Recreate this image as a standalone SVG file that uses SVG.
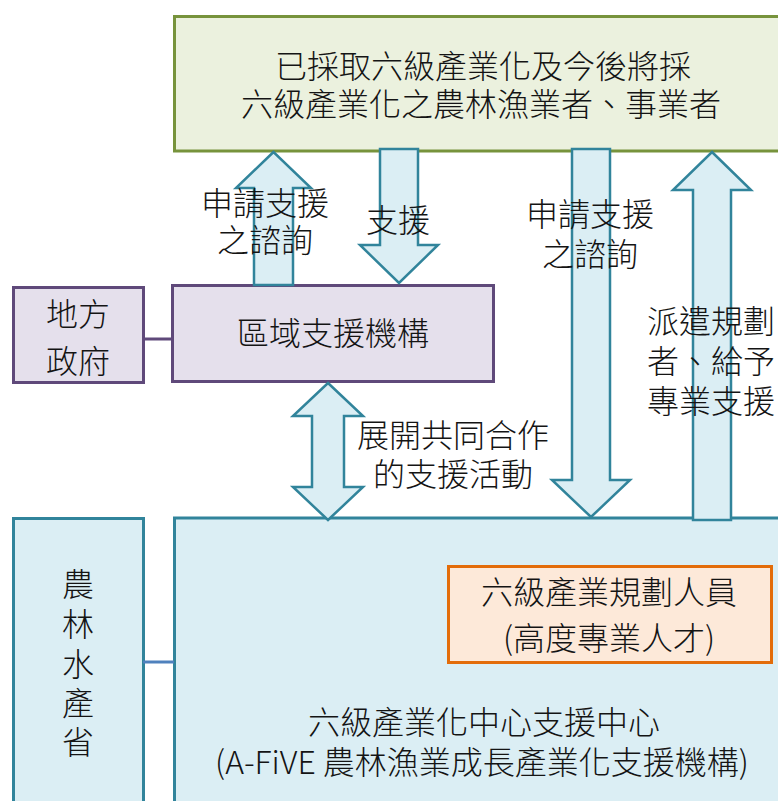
<svg xmlns="http://www.w3.org/2000/svg" width="778" height="801" viewBox="0 0 778 801">
<style>
text{font-family:"Noto Sans CJK TC","Noto Sans",sans-serif;font-size:32px;font-weight:300;fill:#141414;text-anchor:middle}
.arrow{fill:#dbeef4;stroke:#31849b;stroke-width:2.5;stroke-linejoin:miter}
.blue{fill:#dbeef4;stroke:#31849b;stroke-width:3}
.purple{fill:#e5e0ec;stroke:#5f497a;stroke-width:3}
.green{fill:#ebf1de;stroke:#77933c;stroke-width:3}
.orange{fill:#fde9d9;stroke:#e36c09;stroke-width:3}
</style>
<rect width="778" height="801" fill="#ffffff"/>
<g id="farmers">
<rect class="green" x="174.5" y="16.5" width="620" height="134.5"/>
<text x="483" y="78">已採取六級產業化及今後將採</text>
<text x="481" y="116">六級產業化之農林漁業者、事業者</text>
</g>
<g id="local-gov">
<rect class="purple" x="13.5" y="287.5" width="130" height="95"/>
<text x="78" y="326">地方</text>
<text x="78" y="373">政府</text>
</g>
<g id="regional">
<rect class="purple" x="172.5" y="285.5" width="321" height="96"/>
<text x="333" y="345">區域支援機構</text>
</g>
<g id="maff">
<rect class="blue" x="13.5" y="518.5" width="130" height="300"/>
<text x="78" y="596">農</text>
<text x="78" y="636">林</text>
<text x="78" y="676">水</text>
<text x="78" y="715">產</text>
<text x="78" y="754">省</text>
</g>
<g id="center">
<rect class="blue" x="174.5" y="518" width="620" height="300"/>
<text x="484" y="734">六級產業化中心支援中心</text>
<text x="482" y="774">(A-FiVE 農林漁業成長產業化支援機構)</text>
</g>
<g id="planner">
<rect class="orange" x="448.5" y="566.5" width="323" height="96"/>
<text x="609" y="604">六級產業規劃人員</text>
<text x="609" y="650">(高度專業人才)</text>
</g>
<g id="connectors">
<line x1="143" y1="339" x2="172" y2="339" stroke="#5f497a" stroke-width="3"/>
<line x1="143" y1="662" x2="174" y2="662" stroke="#4f81bd" stroke-width="3"/>
<polygon class="arrow" points="273.5,152 236,188 254,188 254,285 293,285 293,188 311,188"/>
<polygon class="arrow" points="380,149 418,149 418,245 438,245 399,283 360,245 380,245"/>
<polygon class="arrow" points="328,383 363,416 344,416 344,487 363,487 328,520 293,487 312,487 312,416 293,416"/>
<polygon class="arrow" points="572,149 610,149 610,480 630,480 591,517 552,480 572,480"/>
<polygon class="arrow" points="712,152 751,190 731,190 731,520 693,520 693,190 673,190"/>
</g>
<g id="labels">
<text x="265" y="215">申請支援</text>
<text x="265" y="252">之諮詢</text>
<text x="398" y="232">支援</text>
<text x="590" y="226">申請支援</text>
<text x="590" y="266">之諮詢</text>
<text x="453" y="447">展開共同合作</text>
<text x="453" y="486">的支援活動</text>
<text x="711" y="333">派遣規劃</text>
<text x="711" y="373">者、給予</text>
<text x="711" y="413">專業支援</text>
</g>
</svg>
